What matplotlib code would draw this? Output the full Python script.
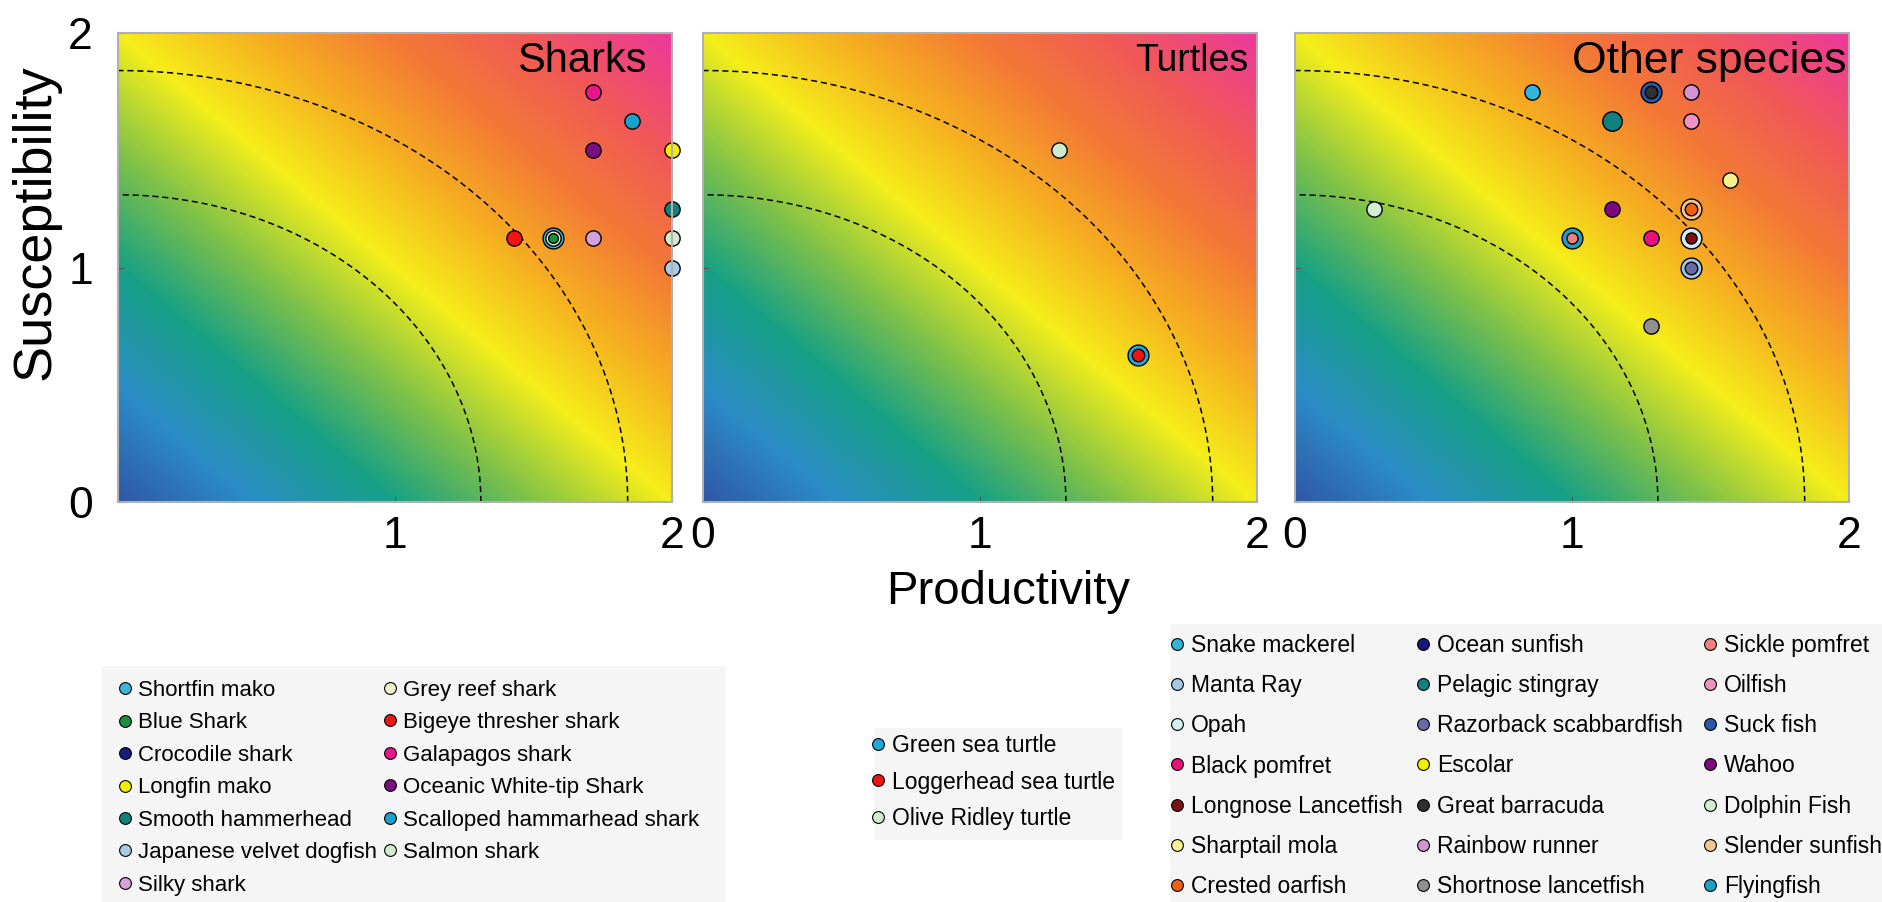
import numpy as np
import matplotlib.pyplot as plt
from matplotlib.colors import LinearSegmentedColormap
from matplotlib.lines import Line2D
from matplotlib.patches import Rectangle

plt.rcParams['font.family'] = ['Liberation Sans', 'DejaVu Sans']

# --- species: name, colour ---
shark_names = ['Shortfin mako', 'Blue Shark', 'Crocodile shark', 'Longfin mako',
               'Smooth hammerhead', 'Japanese velvet dogfish', 'Silky shark',
               'Grey reef shark', 'Bigeye thresher shark', 'Galapagos shark',
               'Oceanic White-tip Shark', 'Scalloped hammarhead shark', 'Salmon shark']
shark_colors = ['#3db3dc', '#169040', '#1c1c80', '#f2ee00', '#12807c', '#a6cbe6',
                '#d7a0d8', '#f1f1c9', '#f01414', '#e8168a', '#7a0f80', '#1aa2cc', '#cfeacd']
# productivity, susceptibility (None = not plotted)
shark_p = [1.571, 1.571, None, 2.0, 2.0, 2.0, 1.714, 1.571, 1.429, 1.714, 1.714, 1.857, 2.0]
shark_s = [1.125, 1.125, None, 1.5, 1.25, 1.0, 1.125, 1.125, 1.125, 1.75, 1.5, 1.625, 1.125]
shark_size = [15, 7, 0, 11, 11, 11, 11, 11, 11, 11, 11, 11, 11]

turtle_names = ['Green sea turtle', 'Loggerhead sea turtle', 'Olive Ridley turtle']
turtle_colors = ['#20a8d8', '#f01414', '#cfeacd']
turtle_p = [1.571, 1.571, 1.286]
turtle_s = [0.625, 0.625, 1.5]
turtle_size = [15, 9, 11]

other_names = ['Snake mackerel', 'Manta Ray', 'Opah', 'Black pomfret',
               'Longnose Lancetfish', 'Sharptail mola', 'Crested oarfish',
               'Ocean sunfish', 'Pelagic stingray', 'Razorback scabbardfish', 'Escolar',
               'Great barracuda', 'Rainbow runner', 'Shortnose lancetfish',
               'Sickle pomfret', 'Oilfish', 'Suck fish', 'Wahoo', 'Dolphin Fish',
               'Slender sunfish', 'Flyingfish']
other_colors = ['#34b4d8', '#a2c8e8', '#d2eef0', '#e8107f', '#7e1010', '#f8f28e',
                '#f06012', '#18187a', '#108080', '#6a6aa8', '#f2ee00', '#303030',
                '#d492d2', '#909090', '#f08080', '#f292c2', '#2858a8', '#80087e',
                '#d2ecd0', '#f6c690', '#1ea0c0']
other_p = [0.857, 1.429, 1.429, 1.286, 1.429, 1.571, 1.429, None, 1.143, 1.429, None,
           1.286, 1.429, 1.286, 1.0, 1.429, 1.286, 1.143, 0.286, 1.429, 1.0]
other_s = [1.75, 1.0, 1.125, 1.125, 1.125, 1.375, 1.25, None, 1.625, 1.0, None,
           1.75, 1.75, 0.75, 1.125, 1.625, 1.75, 1.25, 1.25, 1.25, 1.125]
other_size = [11, 15, 15, 11, 8, 11, 9, 0, 14, 9, 0, 9, 11, 11, 8, 11, 15, 11, 11, 15, 15]

groups = [('Sharks', shark_names, shark_colors, shark_p, shark_s, shark_size),
          ('Turtles', turtle_names, turtle_colors, turtle_p, turtle_s, turtle_size),
          ('Other species', other_names, other_colors, other_p, other_s, other_size)]

# risk background: blue (low) -> yellow -> magenta (high)
risk_cmap = LinearSegmentedColormap.from_list('risk', [
    (0.0, '#3158a6'), (0.12, '#2b8cc6'), (0.25, '#17a086'), (0.37, '#7cc04a'),
    (0.5, '#f5ee1a'), (0.62, '#f6b020'), (0.74, '#f37a35'), (0.86, '#f15a55'),
    (1.0, '#ec389c')])
gx, gy = np.meshgrid(np.linspace(0, 2, 400), np.linspace(0, 2, 400))
risk = (gx + gy) / 4.0

radii = [1.31, 1.84]
theta = np.linspace(0, np.pi / 2, 200)

W, H = 1882, 902
fig = plt.figure(figsize=(W / 100, H / 100), dpi=100)
lefts = [118, 703, 1295]
title_x = [0.955, 0.985, 0.995]
title_size = [30, 27, 32]

for i, (title, names, colors, px, sy, sz) in enumerate(groups):
    ax = fig.add_axes([lefts[i] / W, 400 / H, 554 / W, 469 / H])
    ax.imshow(risk, cmap=risk_cmap, extent=[0, 2, 0, 2], origin='lower',
              aspect='auto', vmin=0, vmax=1, interpolation='bilinear')
    for r in radii:
        ax.plot(r * np.cos(theta), r * np.sin(theta), color='black',
                linestyle=(0, (4, 2.5)), linewidth=1.1)
    # biggest markers first so stacked points show as rings
    order = np.argsort(sz)[::-1]
    for k in order:
        if px[k] is None:
            continue
        ax.plot(px[k], sy[k], 'o', color=colors[k], markersize=sz[k],
                markeredgecolor='black', markeredgewidth=1.0, clip_on=False)
    ax.text(title_x[i], 0.94, title, transform=ax.transAxes, ha='right',
            va='center', fontsize=title_size[i])
    ax.set_xlim(0, 2)
    ax.set_ylim(0, 2)
    ax.set_xticks([0, 1, 2])
    ax.set_yticks([0, 1, 2])
    ax.tick_params(direction='in', length=4, width=0.8, color='#555555',
                   labelsize=32, pad=10)
    if i == 0:
        ax.set_xticklabels(['', '1', '2'])
        ax.tick_params(axis='y', pad=18)
    else:
        ax.set_yticklabels([])
    for sp in ax.spines.values():
        sp.set_color('#b0b0b0')
        sp.set_linewidth(1.5)

fig.text(1008 / W, 1 - 592 / H, 'Productivity', ha='center', va='center',
         fontsize=34)
fig.text(36 / W, 1 - 222 / H, 'Susceptibility', ha='center', va='center',
         rotation=90, fontsize=39)


def handles(names, colors):
    return [Line2D([], [], marker='o', linestyle='', markersize=8.5,
                   markerfacecolor=c, markeredgecolor='black',
                   markeredgewidth=0.8, label=n) for n, c in zip(names, colors)]


# legend blocks: background box (x0, y0, x1, y1 px), rows per column,
# marker x of each column, first row y, row step, font size
leg_blocks = [
    (shark_names, shark_colors, (102, 666, 726, 902), 7, [125, 390], 690, 32.6, 16),
    (turtle_names, turtle_colors, (874, 728, 1122, 840), 3, [878], 747, 35, 16.5),
    (other_names, other_colors, (1170, 624, 1882, 902), 7, [1177, 1423, 1710], 649, 39, 16.5),
]
for names, colors, box, nrow, col_x, y0, step, fsz in leg_blocks:
    x0, yt, x1, yb = box
    fig.add_artist(Rectangle((x0 / W, 1 - yb / H), (x1 - x0) / W, (yb - yt) / H,
                             transform=fig.transFigure, facecolor='#f5f5f5',
                             edgecolor='none', zorder=0))
    hl = handles(names, colors)
    for c, cx in enumerate(col_x):
        part = hl[c * nrow:(c + 1) * nrow]
        ymid = y0 + step * (len(part) - 1) / 2
        leg = fig.legend(handles=part, loc='center left',
                         bbox_to_anchor=((cx - 0.35 * fsz * 100 / 72) / W, 1 - ymid / H),
                         fontsize=fsz, handlelength=0.7, handletextpad=0.25,
                         labelspacing=(step * 72 / 100 - 1.17 * fsz) / fsz + 0.22,
                         borderpad=0, borderaxespad=0, frameon=False)

fig.savefig('out.png', dpi=100)
